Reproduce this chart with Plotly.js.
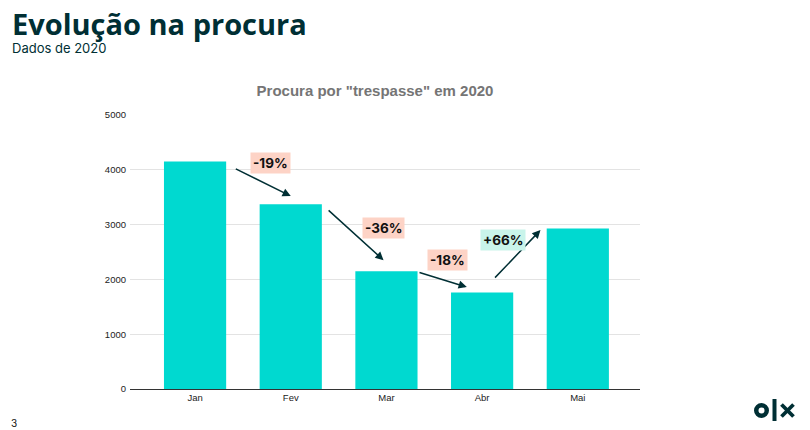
<!DOCTYPE html>
<html>
<head>
<meta charset="utf-8">
<script src="https://cdn.plot.ly/plotly-3.0.1.min.js"></script>
<style>
html,body{margin:0;padding:0;background:#fff;}
#chart{width:810px;height:430px;}
</style>
</head>
<body>
<div id="chart"></div>
<script>
// Data
const months = ["Jan", "Fev", "Mar", "Abr", "Mai"];
const procura = [4150, 3370, 2150, 1760, 2930];
const changeLabels = ["-19%", "-36%", "-18%", "+66%"];
const yTicks = [0, 1000, 2000, 3000, 4000, 5000];

const pageTitle = "Evolução na procura";
const pageSubtitle = "Dados de 2020";
const chartTitle = 'Procura por "trespasse" em 2020';

// Plot area pixel geometry
const L = 130, R = 640, T = 115, B = 389, W = 810, H = 430;
const px = x => (x - L) / (R - L);
const py = y => (B - y) / (B - T);

const dark = "#002f34";

// arrow annotations (positions in data coords)
const arrows = [
  {x0: 0.41, y0: 4030, x1: 1.0, y1: 3520, lx: 0.79, ly: 4125, bg: "#fdd3c6"},
  {x0: 1.38, y0: 3285, x1: 1.97, y1: 2350, lx: 1.97, ly: 2935, bg: "#fdd3c6"},
  {x0: 2.33, y0: 2135, x1: 2.84, y1: 1860, lx: 2.64, ly: 2355, bg: "#fdd3c6"},
  {x0: 3.12, y0: 2005, x1: 3.61, y1: 2900, lx: 3.22, ly: 2720, bg: "#c9f4ea"}
];

const annotations = [];
arrows.forEach((a, i) => {
  annotations.push({
    x: a.x1, y: a.y1, ax: a.x0, ay: a.y0,
    xref: "x", yref: "y", axref: "x", ayref: "y",
    text: "", showarrow: true, arrowhead: 2, arrowsize: 1.1,
    arrowwidth: 1.5, arrowcolor: dark, standoff: 0, startstandoff: 0
  });
  annotations.push({
    x: a.lx, y: a.ly, xref: "x", yref: "y",
    text: "<b>" + changeLabels[i] + "</b>", showarrow: false,
    bgcolor: a.bg, borderpad: 2,
    font: {family: "Inter, 'Noto Sans', sans-serif", size: 13.5, color: "#111"}
  });
});

// header: title + subtitle in one text block
annotations.push({
  x: px(10), y: py(1.5), xref: "paper", yref: "paper", xanchor: "left", yanchor: "top",
  align: "left",
  text: "<span style='font-family:\"Open Sans\", Inter, sans-serif;font-size:29px;font-weight:bold'>" +
        pageTitle + "</span><br>" +
        "<span style='font-family:Inter, \"Noto Sans\", sans-serif;font-size:13px'>" + pageSubtitle + "</span>",
  showarrow: false,
  font: {family: "Inter, 'Noto Sans', sans-serif", size: 13.5, color: dark}
});
annotations.push({
  x: px(9), y: py(423), xref: "paper", yref: "paper", xanchor: "left", yanchor: "middle",
  text: "3", showarrow: false,
  font: {family: "Inter, 'Noto Sans', sans-serif", size: 10, color: "#111"}
});

// OLX logo shapes (paper coords)
const shapes = [
  {type: "circle", xref: "paper", yref: "paper",
   x0: px(756.25), x1: px(766.75), y0: py(405.25), y1: py(415.75),
   line: {color: dark, width: 4.5}, fillcolor: "rgba(0,0,0,0)"},
  {type: "rect", xref: "paper", yref: "paper",
   x0: px(772.5), x1: px(776.5), y0: py(399), y1: py(421),
   line: {width: 0}, fillcolor: dark},
  {type: "line", xref: "paper", yref: "paper",
   x0: px(781.5), x1: px(793.5), y0: py(404.5), y1: py(416.5),
   line: {color: dark, width: 3.8}},
  {type: "line", xref: "paper", yref: "paper",
   x0: px(781.5), x1: px(793.5), y0: py(416.5), y1: py(404.5),
   line: {color: dark, width: 3.8}}
];

const trace = {
  type: "bar", x: months, y: procura,
  marker: {color: "#00d9d0", line: {width: 0}},
  width: 0.65, hoverinfo: "x+y"
};

const layout = {
  width: W, height: H,
  margin: {l: L, r: W - R, t: T, b: H - B, pad: 0},
  paper_bgcolor: "#fff", plot_bgcolor: "#fff",
  showlegend: false,
  title: {
    text: "<b>" + chartTitle + "</b>",
    xref: "container", yref: "container", x: 375 / W, y: 1 - 91 / H,
    xanchor: "center", yanchor: "middle",
    font: {family: "Arial, 'Liberation Sans', sans-serif", size: 15, color: "#757575"}
  },
  xaxis: {
    type: "category", range: [-0.68, 4.65],
    showgrid: false, zeroline: false,
    showline: true, linecolor: "#333", linewidth: 1,
    ticks: "", tickfont: {family: "Arial, 'Liberation Sans', sans-serif", size: 9.5, color: "#222"},
    fixedrange: true
  },
  yaxis: {
    range: [0, 5000], tickvals: yTicks, ticktext: yTicks.map(String),
    showgrid: true, gridcolor: "#e3e3e3", gridwidth: 1,
    zeroline: false, showline: false, ticks: "",
    ticklabelstandoff: 3,
    tickfont: {family: "Arial, 'Liberation Sans', sans-serif", size: 9.5, color: "#222"},
    fixedrange: true
  },
  annotations: annotations,
  shapes: shapes
};

Plotly.newPlot("chart", [trace], layout, {displayModeBar: false, staticPlot: true});
</script>
</body>
</html>
